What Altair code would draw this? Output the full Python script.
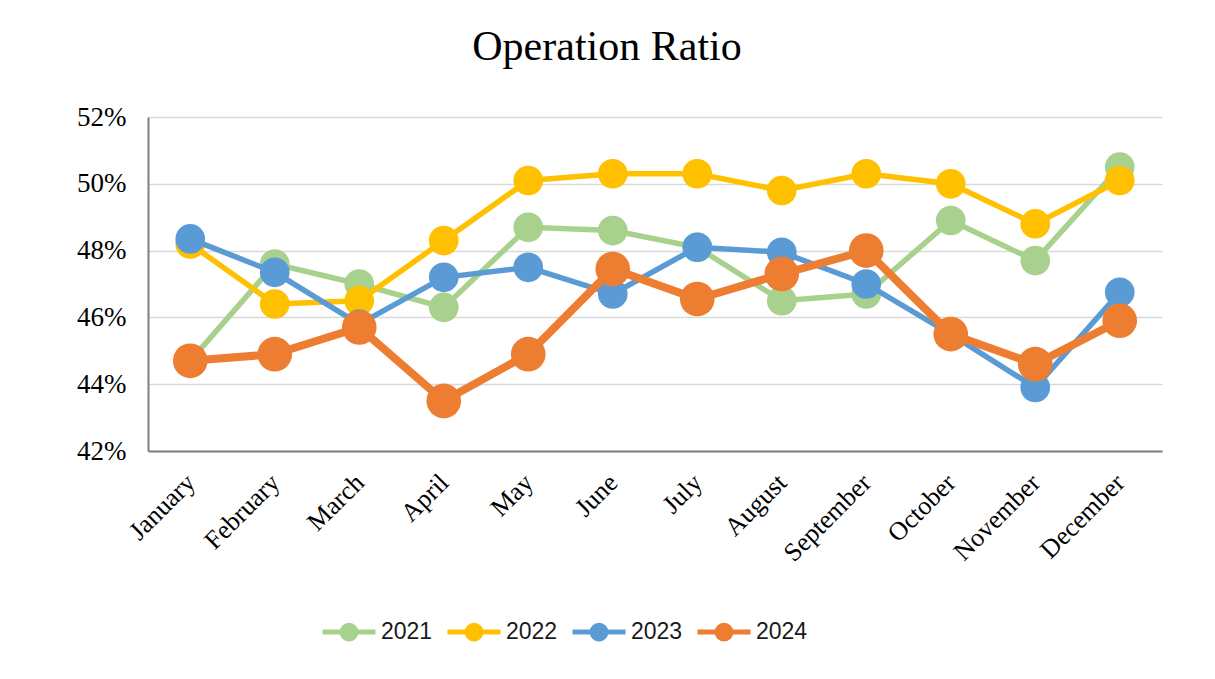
import altair as alt
import pandas as pd

months = ["January", "February", "March", "April", "May", "June", "July",
          "August", "September", "October", "November", "December"]
years = ["2021", "2022", "2023", "2024"]
v2021 = [44.7, 47.6, 47.0, 46.3, 48.7, 48.6, 48.1, 46.5, 46.7, 48.9, 47.7, 50.5]
v2022 = [48.2, 46.4, 46.5, 48.3, 50.1, 50.3, 50.3, 49.8, 50.3, 50.0, 48.8, 50.1]
v2023 = [48.35, 47.35, 45.8, 47.2, 47.5, 46.7, 48.1, 47.95, 47.0, 45.5, 43.9, 46.75]
v2024 = [44.7, 44.9, 45.7, 43.5, 44.9, 47.45, 46.55, 47.3, 48.0, 45.5, 44.6, 45.9]
colors = ["#A9D18E", "#FFC000", "#5B9BD5", "#ED7D31"]
line_widths = [5.5, 5.5, 5.5, 8]
point_sizes = [880, 880, 880, 1200]

series = [v2021, v2022, v2023, v2024]
rows = []
for y, vals in zip(years, series):
    for m, v in zip(months, vals):
        rows.append({"month": m, "year": y, "value": v / 100})
df = pd.DataFrame(rows)

sym_path = ("M-1,0L1,0M-0.26,0A0.26,0.26,0,1,1,0.26,0"
            "A0.26,0.26,0,1,1,-0.26,0Z")

x_enc = alt.X("month:N", sort=months,
              scale=alt.Scale(type="point", padding=0.5),
              axis=alt.Axis(title=None, labelAngle=-45, labelAlign="right",
                            labelBaseline="top", labelPadding=18, labelOffset=-9,
                            labelFont="Liberation Serif", labelFontSize=26,
                            labelColor="black", ticks=False, grid=False,
                            domainColor="#7f7f7f", domainWidth=2))
y_enc = alt.Y("value:Q",
              scale=alt.Scale(domain=[0.42, 0.52], nice=False, zero=False),
              axis=alt.Axis(title=None, format=".0%", values=[0.42, 0.44, 0.46, 0.48, 0.50, 0.52],
                            labelFont="Liberation Serif", labelFontSize=27,
                            labelColor="black", labelPadding=22, ticks=False,
                            grid=True, gridColor="#d9d9d9", gridWidth=1.5,
                            domainColor="#7f7f7f", domainWidth=2))


def make_legend():
    return alt.Legend(
        title=None, orient="none", legendX=172, legendY=486,
        direction="horizontal", columns=4, symbolType=sym_path,
        symbolSize=2809, symbolStrokeWidth=5,
        labelFont="Liberation Sans", labelFontSize=23, labelColor="#1a1a1a",
        labelOffset=3, columnPadding=4, symbolOpacity=1)


scale = alt.Scale(domain=years, range=colors)

layers = []
for i, y in enumerate(years):
    base = alt.Chart(df).transform_filter(alt.datum.year == y)
    line = base.mark_line(strokeWidth=line_widths[i]).encode(
        x=x_enc, y=y_enc,
        stroke=alt.Stroke("year:N", scale=scale,
                          legend=make_legend() if i == 0 else None))
    pts = base.mark_circle(size=point_sizes[i], opacity=1).encode(
        x=x_enc, y=y_enc,
        fill=alt.Fill("year:N", scale=scale,
                      legend=make_legend() if i == 0 else None))
    layers += [line, pts]

chart = alt.layer(*layers).properties(
    width=1014, height=334, background="white",
    title=alt.Title("Operation Ratio", font="Liberation Serif", fontSize=42,
                    fontWeight="normal", color="black", anchor="middle",
                    dx=-48, offset=34),
    autosize=alt.AutoSizeParams(type="none"),
    padding={"left": 140, "top": 109, "right": 45, "bottom": 210},
).configure_view(strokeWidth=0, stroke="transparent")

chart.save("out.html", embed_options={"renderer": "svg", "actions": False})
